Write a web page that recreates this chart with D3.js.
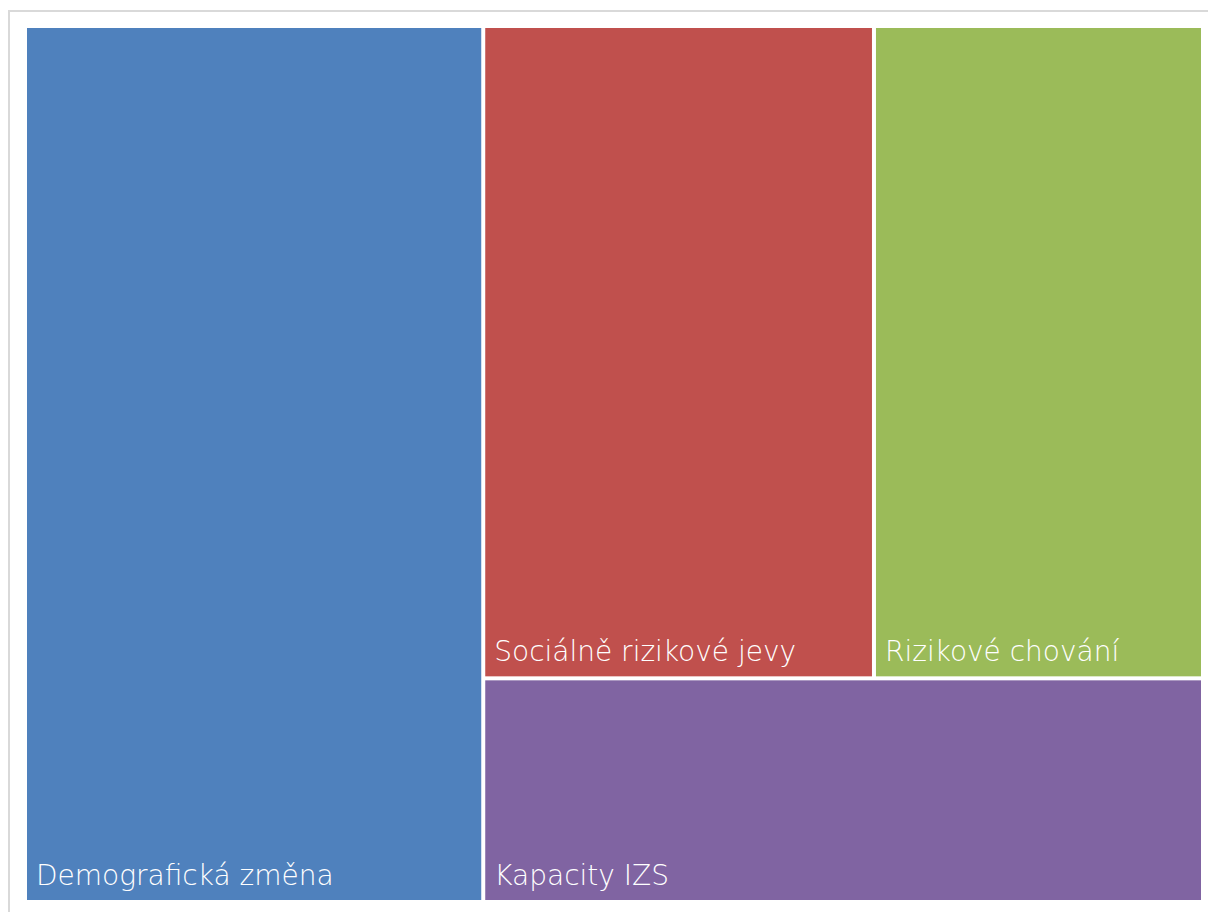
<!DOCTYPE html>
<html>
<head>
<meta charset="utf-8">
<script src="https://cdn.jsdelivr.net/npm/d3@7"></script>
<style>
  html, body { margin: 0; padding: 0; background: #ffffff; }
  svg { display: block; }
</style>
</head>
<body>
<svg id="chart" width="1208" height="912"></svg>
<script>
const categories = ["Demografická změna", "Sociálně rizikové jevy", "Rizikové chování", "Kapacity IZS"];
const values = [38.9, 24.7, 20.8, 15.6];
const colors = ["#4F81BD", "#C0504D", "#9BBB59", "#8064A2"];

const svg = d3.select("#chart");

// outer frame (right and bottom edges run off the page)
svg.append("rect")
  .attr("x", 9).attr("y", 11)
  .attr("width", 1400).attr("height", 1200)
  .attr("fill", "none")
  .attr("stroke", "#d9d9d9")
  .attr("stroke-width", 2);

const root = d3.hierarchy({ children: categories.map((c, i) => ({ name: c, value: values[i], color: colors[i] })) })
  .sum(d => d.value || 0);

d3.treemap()
  .tile(d3.treemapSquarify.ratio(1))
  .size([1174, 872])
  .paddingInner(4)
  .round(false)(root);

const g = svg.append("g").attr("transform", "translate(27,28)");
const cell = g.selectAll("g.cell")
  .data(root.leaves())
  .join("g")
  .attr("class", "cell");

cell.append("rect")
  .attr("x", d => d.x0)
  .attr("y", d => d.y0)
  .attr("width", d => d.x1 - d.x0)
  .attr("height", d => d.y1 - d.y0)
  .attr("fill", d => d.data.color);

cell.append("text")
  .attr("x", d => d.x0 + 9)
  .attr("y", d => d.y1 - 15)
  .attr("fill", "#ffffff")
  .attr("font-family", "'DejaVu Sans', sans-serif")
  .attr("font-weight", 300)
  .attr("font-size", 28)
  .text(d => d.data.name);
</script>
</body>
</html>
